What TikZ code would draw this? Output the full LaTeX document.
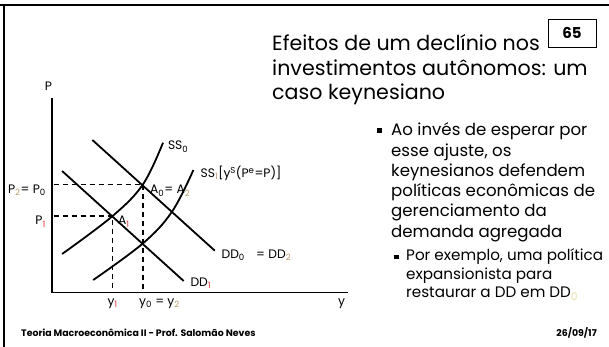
\documentclass[tikz,border=0pt]{standalone}
\usepackage{fontspec}
\setmainfont{Poppins}
\definecolor{tansub}{RGB}{180,155,105}
\definecolor{palesub}{RGB}{235,220,175}
\definecolor{redsub}{RGB}{230,40,40}
\newcommand{\sbr}[1]{\textsubscript{\color{redsub}#1}}
\newcommand{\sbt}[1]{\textsubscript{\color{tansub}#1}}
\newcommand{\sbk}[1]{\textsubscript{#1}}
\tikzset{
  curve/.style={line width=1.8pt},
  axisline/.style={line width=1.6pt},
  guide/.style={line width=1.5pt, dash pattern=on 5.5pt off 3.5pt},
  lbl/.style={font=\fontsize{12.3}{14}\selectfont, inner sep=0pt},
  titleline/.style={font=\fontsize{20.6}{24}\selectfont, inner sep=0pt, anchor=base west},
  bodyline/.style={font=\fontsize{16.6}{20}\selectfont, inner sep=0pt, anchor=base west},
  subline/.style={font=\fontsize{15.2}{18}\selectfont, inner sep=0pt, anchor=base west},
  bulletbox/.style={fill=black, inner sep=0pt, minimum size=5pt},
  subbulletbox/.style={fill=black, inner sep=0pt, minimum size=4.5pt},
  footer/.style={font=\fontsize{9.4}{11}\selectfont\bfseries, inner sep=0pt, anchor=base west},
}
\begin{document}
\begin{tikzpicture}[x=1pt,y=-1pt]
\useasboundingbox (0,0) rectangle (609,347);
% frame
\draw[line width=2pt] (0,5) -- (609,5);
\draw[line width=2pt] (4,5) -- (4,347);
% page number
\node[draw, line width=0.9pt, minimum width=48pt, minimum height=28pt, inner sep=0pt,
      font=\fontsize{15}{17}\selectfont\bfseries] (pg) at (572,33) {65};
% title
\node[titleline] (t1) at (272,51) {Efeitos de um declínio nos};
\node[titleline] (t2) at (272,75.5) {investimentos autônomos: um};
\node[titleline] (t3) at (272,100) {caso keynesiano};
% bullets
\node[bulletbox] (bl1) at (379.5,130.5) {};
\node[bodyline] (b1) at (391,136) {Ao invés de esperar por};
\node[bodyline] (b2) at (391,156.2) {esse ajuste, os};
\node[bodyline] (b3) at (391,176.4) {keynesianos defendem};
\node[bodyline] (b4) at (391,196.6) {políticas econômicas de};
\node[bodyline] (b5) at (391,216.8) {gerenciamento da};
\node[bodyline] (b6) at (391,237) {demanda agregada};
\node[subbulletbox] (bl2) at (396.5,257) {};
\node[subline] (s1) at (406,260.5) {Por exemplo, uma política};
\node[subline] (s2) at (406,279.2) {expansionista para};
\node[subline] (s3) at (406,297.9) {restaurar a DD em DD\textsubscript{\color{palesub}0}};
% footer
\node[footer] (f1) at (21,336) {Teoria Macroeconômica II - Prof. Salomão Neves};
\node[footer, anchor=base east] (f2) at (597,336) {26/09/17};
% axes
\coordinate (O) at (51.7,292.3);
\coordinate (ytop) at (51.7,98.3);
\coordinate (xend) at (347.6,292.3);
\draw[axisline] (ytop) -- (O) -- (xend);
\node[lbl] (Plab) at (48.5,86.7) {P};
\node[lbl] (ylab) at (341.7,304) {y};
% equilibrium points
\coordinate (A0) at (143,184.3);
\coordinate (A1) at (112.6,216);
\coordinate (B) at (143,243.3);
\coordinate (C) at (172,211.7);
% demand lines
\coordinate (dd0s) at (92.4,140);
\coordinate (dd0e) at (214.8,250.7);
\coordinate (dd1s) at (62.1,171);
\coordinate (dd1e) at (183.7,281);
\draw[curve] (dd0s) -- (dd0e);
\draw[curve] (dd1s) -- (dd1e);
% supply curves
\coordinate (ss0s) at (62.1,254);
\coordinate (ss0e) at (163,142.7);
\coordinate (ss1s) at (93.2,280);
\coordinate (ss1e) at (193.4,170);
\draw[curve] plot[smooth, tension=0.6] coordinates {(ss0s) (A1) (A0) (ss0e)};
\draw[curve] plot[smooth, tension=0.6] coordinates {(ss1s) (B) (C) (ss1e)};
% guides
\coordinate (p0) at (53.5,184.3);
\coordinate (p1) at (53.5,216);
\coordinate (y0) at (143,291);
\coordinate (y1) at (112.6,291);
\draw[guide] (p0) -- (A0) -- (y0);
\draw[guide] (p1) -- (A1) -- (y1);
% labels
\node[lbl, anchor=west] (ss0lab) at (167.8,146.7) {SS\sbk{0}};
\node[lbl, anchor=west] (ss1lab) at (200.4,173.3) {SS\sbt{1}[y\textsuperscript{S}(P\textsuperscript{e}=P)]};
\node[lbl, anchor=east] (p20lab) at (46,190) {P\sbt{2}= P\sbk{0}};
\node[lbl, anchor=east] (p1lab) at (46,221.7) {P\sbr{1}};
\node[lbl, anchor=west] (a0lab) at (150,190.7) {A\sbk{0}= A\sbt{2}};
\node[lbl, anchor=west] (a1lab) at (118,221.7) {A\sbr{1}};
\node[lbl, anchor=west] (dd0lab) at (221.4,255) {DD\sbk{0}\hspace{8pt} = DD\sbt{2}};
\node[lbl, anchor=west] (dd1lab) at (190.3,283.3) {DD\sbr{1}};
\node[lbl] (y1lab) at (112.6,304) {y\sbr{1}};
\node[lbl, anchor=west] (y02lab) at (139,304) {y\sbk{0} = y\sbt{2}};
\end{tikzpicture}
\end{document}
